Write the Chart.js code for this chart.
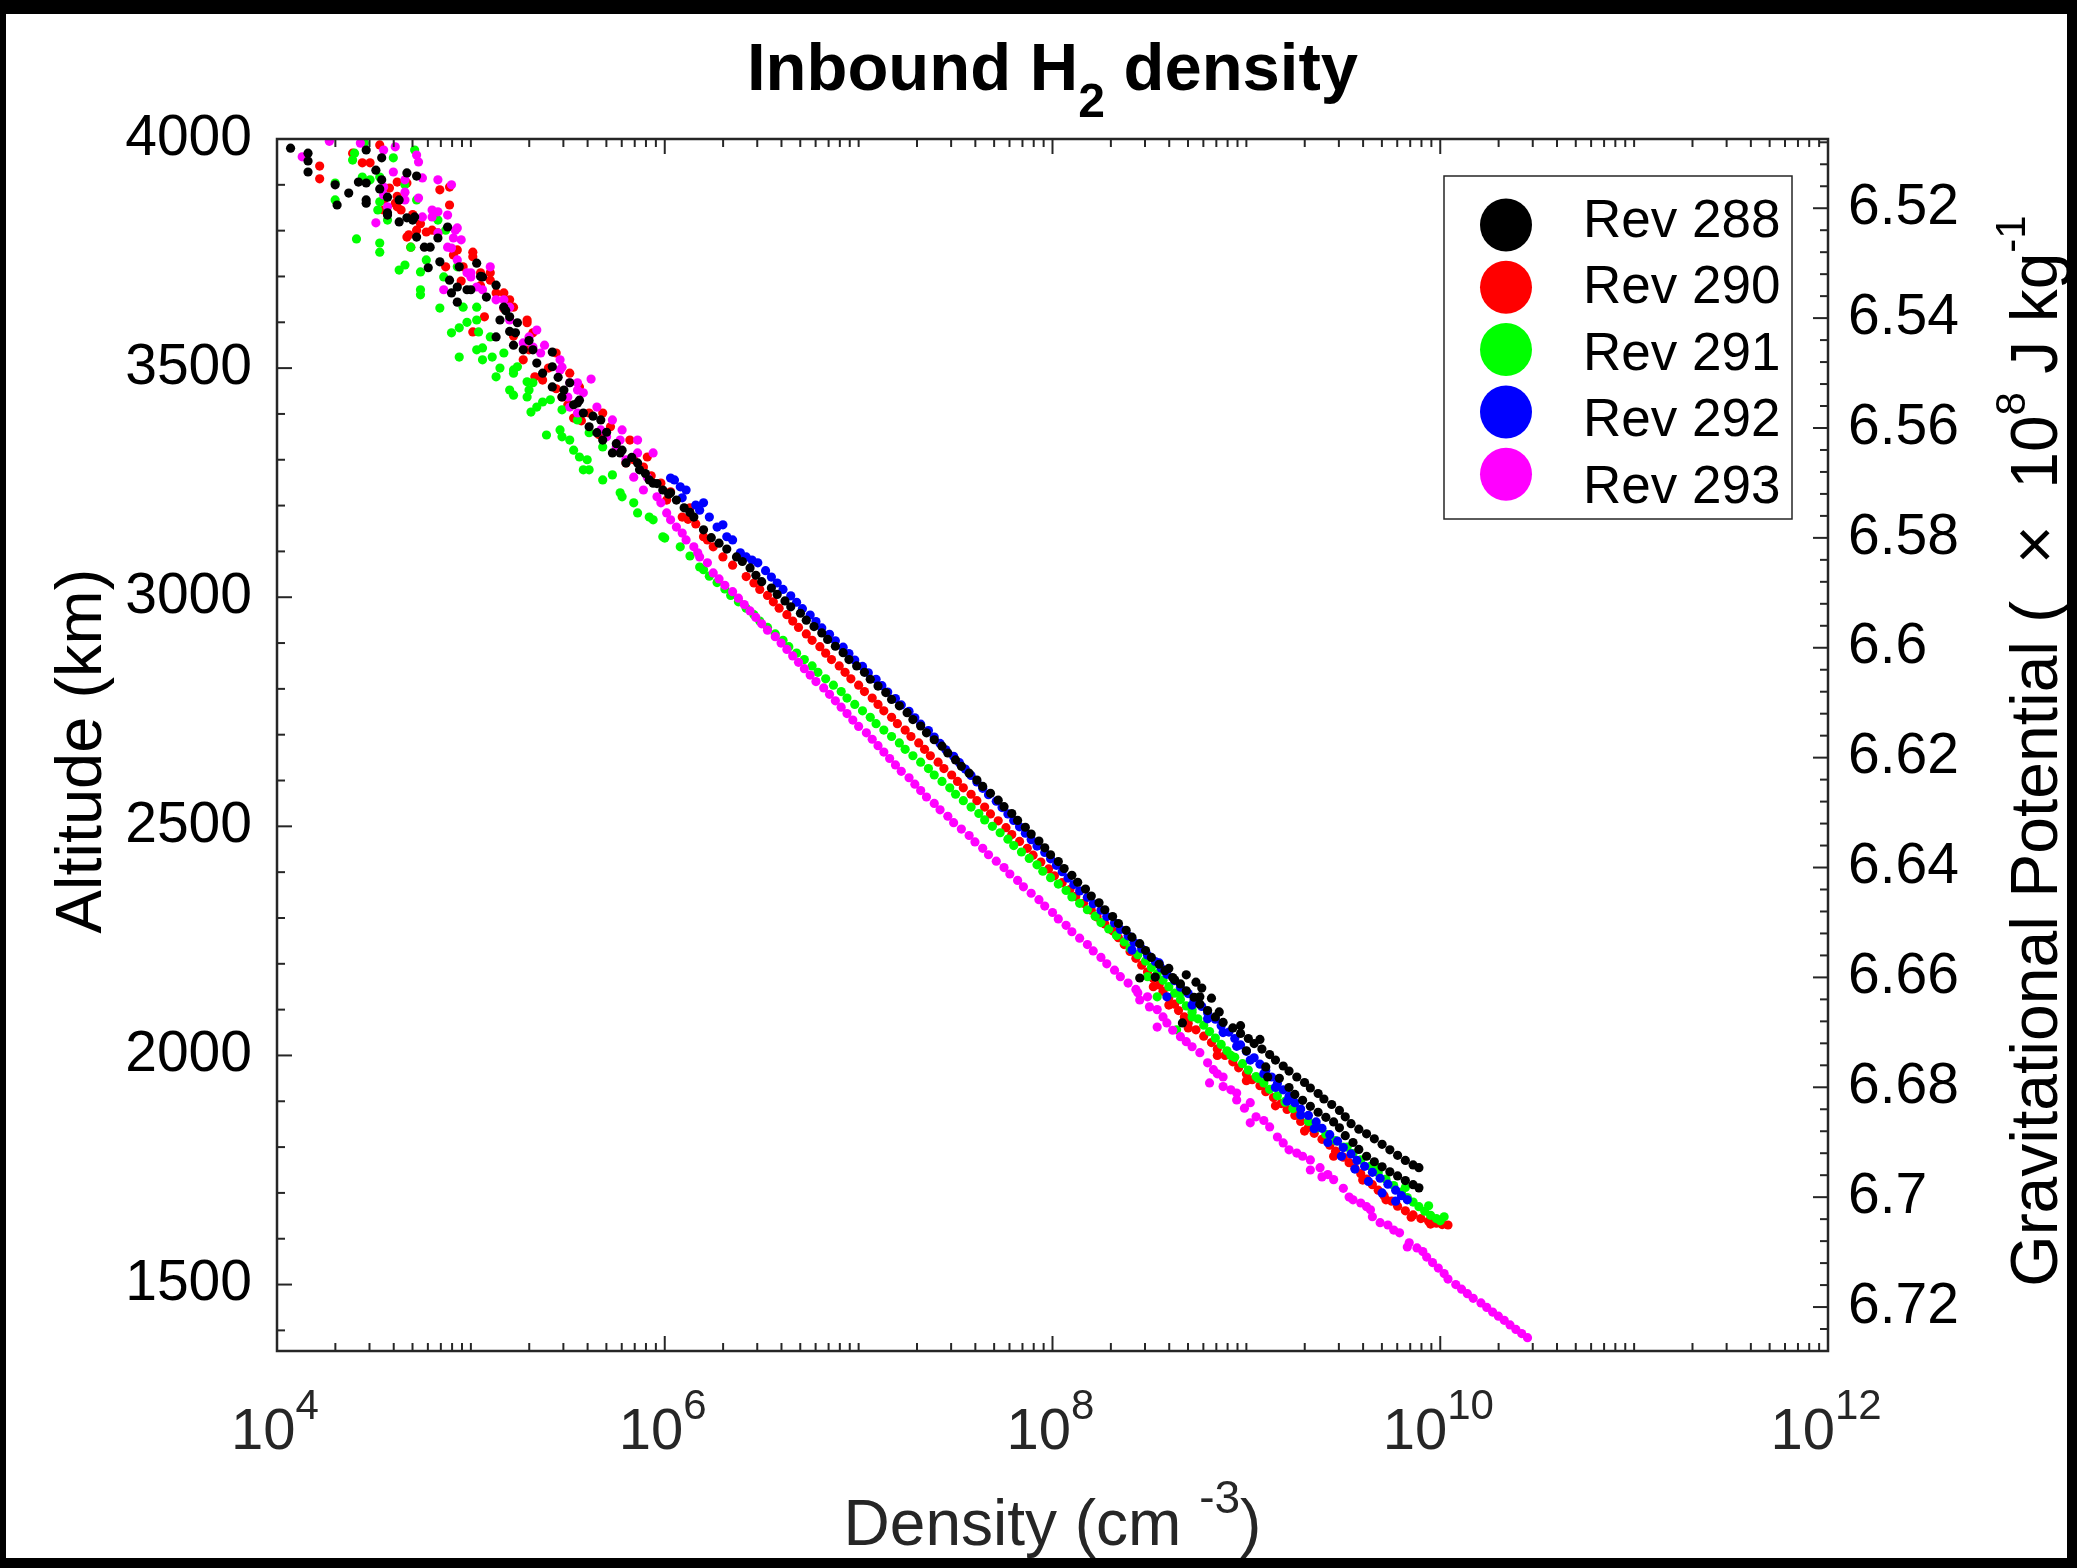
<!DOCTYPE html>
<html>
<head>
<meta charset="utf-8">
<title>Inbound H2 density</title>
<script src="https://cdn.jsdelivr.net/npm/chart.js@4/dist/chart.umd.min.js"></script>
<style>
  html, body { margin: 0; padding: 0; background: #000; overflow: hidden; }
  canvas { display: block; }
</style>
</head>
<body>
<canvas id="chart" width="2077" height="1568"></canvas>
<script>
// each point: [log10 density (cm^-3), altitude (km)]
const rev288 = [
  [4.07,3980],[4.16,3969],[4.16,3952],[4.16,3928],[4.30,3900],[4.31,3856],[4.37,3882],[4.42,3906],[4.46,3976],[4.46,3904],
  [4.46,3867],[4.51,3932],[4.53,3891],[4.54,3959],[4.54,3911],[4.57,3873],[4.57,3834],[4.63,3867],[4.63,3819],[4.67,3926],
  [4.72,3919],[4.67,3828],[4.72,3786],[4.76,3764],[4.83,3784],[4.84,3732],[4.78,3719],[4.88,3808],[4.90,3664],[4.93,3644],
  [4.94,3721],[4.98,3671],[5.03,3729],[5.05,3700],[5.08,3655],[5.13,3681],[5.15,3605],[5.13,3568],[5.18,3625],[5.20,3580],
  [5.22,3550],[5.24,3599],[5.27,3540],[5.30,3560],[5.34,3511],[5.42,3535],[5.37,3489],[5.45,3480],[5.42,3459],[5.48,3452],
  [5.51,3468],[5.53,3420],[5.56,3430],[5.58,3402],[5.61,3372],[5.63,3395],[5.67,3387],[5.68,3343],[5.70,3360],[5.73,3315],
  [5.75,3335],[5.78,3321],[5.80,3293],[5.83,3305],[5.87,3278],[5.90,3270],[5.92,3256],[5.96,3248],[5.99,3234],[6.02,3225],
  [6.06,3212],[6.10,3195],[6.13,3185],[6.15,3175],[6.20,3147],[6.24,3130],[6.28,3118],[6.32,3105],[6.37,3088],[6.40,3078],
  [4.46,3860],[4.57,3839],[4.70,3823],[4.71,3830],[4.79,3764],[4.89,3692],[4.93,3677],[5.00,3671],[5.06,3699],[5.17,3633],
  [5.20,3612],[5.23,3577],[5.32,3540],[5.42,3503],[5.47,3437],[5.55,3424],[5.65,3359],[5.77,3315],[5.86,3293],[5.94,3249],
  [6.03,3228],
  [6.44,3064],[6.47,3048],[6.50,3034],[6.55,3020],[6.58,3006],[6.62,2992],[6.65,2979],[6.70,2965],[6.73,2950],[6.77,2936],
  [6.81,2922],[6.84,2908],[6.88,2893],[6.92,2879],[6.95,2864],[6.99,2850],[7.03,2836],[7.06,2821],[7.10,2806],[7.14,2792],
  [7.17,2777],[7.21,2763],[7.25,2748],[7.28,2733],[7.32,2719],[7.35,2704],[7.39,2689],[7.43,2675],[7.46,2660],[7.50,2645],
  [7.53,2631],[7.57,2616],[7.61,2601],[7.64,2587],[7.68,2572],[7.72,2557],[7.75,2543],[7.79,2528],[7.82,2513],[7.86,2498],
  [7.89,2483],[7.93,2468],[7.96,2453],[7.99,2438],[8.03,2423],[8.06,2408],[8.10,2393],[8.13,2378],[8.17,2363],[8.20,2348],
  [8.24,2333],[8.27,2318],[8.31,2303],[8.34,2288],[8.38,2273],[8.41,2258],[8.45,2244],[8.48,2229],[8.51,2214],[8.55,2199],
  [8.58,2185],[8.62,2170],[8.66,2156],[8.69,2141],[8.73,2127],[8.76,2112],[8.80,2098],[8.84,2084],[8.88,2072],[8.93,2060],
  [8.97,2048],[9.01,2037],[9.04,2026],[9.08,2014],[9.12,2002],[9.15,1990],[9.19,1977],[9.22,1966],[9.26,1953],[9.30,1941],
  [9.33,1929],[9.37,1917],[9.40,1905],[9.44,1893],[9.48,1880],[9.51,1866],[9.54,1851],[9.58,1839],[9.62,1829],[9.66,1818],
  [9.70,1806],[9.74,1794],[9.78,1782],[9.82,1771],[9.86,1761],[9.89,1755],[9.25,1915],[9.29,1902],[9.33,1889],[9.37,1876],
  [9.41,1865],[9.45,1855],[9.48,1842],[9.51,1825],[9.55,1810],[9.58,1795],[9.62,1780],[9.66,1768],[9.70,1757],[9.74,1746],
  [9.78,1737],[9.82,1727],[9.86,1718],[9.89,1711],[8.45,2169],[8.69,2176],[8.77,2147],[8.67,2071],[9.11,1953],[8.53,2171],
  [8.60,2190],[8.74,2160],[8.82,2125],[8.63,2165],[8.76,2128],[8.86,2095],[8.97,2065],[9.07,2035],[9.00,2010],[9.10,1975],
  [9.17,1950],[9.22,1930]
];
const rev290 = [
  [4.22,3941],[4.22,3913],[4.39,3969],[4.44,3948],[4.48,3948],[4.53,3987],[4.58,3893],[4.61,3860],[4.62,3906],[4.67,3904],
  [4.55,3845],[4.62,3875],[4.68,3791],[4.69,3764],[4.67,3786],[4.70,3835],[4.74,3815],[4.77,3797],[4.80,3801],[4.84,3889],
  [4.89,3856],[4.89,3895],[4.91,3747],[4.96,3721],[4.87,3721],[4.95,3690],[5.01,3753],[5.01,3579],[5.05,3680],[5.07,3612],
  [5.10,3708],[5.13,3664],[5.17,3630],[5.20,3649],[5.22,3570],[5.29,3605],[5.27,3518],[5.30,3540],[5.33,3481],[5.37,3474],
  [5.40,3500],[5.44,3455],[5.47,3437],[5.50,3420],[5.53,3391],[5.57,3385],[5.61,3402],[5.66,3355],[5.72,3372],[5.76,3320],
  [5.80,3293],[5.84,3300],[5.89,3284],[5.93,3265],[5.98,3249],[6.01,3212],[6.03,3230],[6.09,3175],[6.12,3170],[6.13,3195],
  [6.16,3160],[6.20,3132],[6.22,3125],[6.25,3110],[6.30,3088],[6.35,3070],
  [4.55,3867],[4.62,3852],[4.64,3845],[4.72,3801],[4.83,3795],[4.93,3758],[5.01,3743],[5.05,3708],[5.10,3692],[5.17,3664],
  [5.22,3633],[5.29,3599],[5.32,3577],[5.44,3533],[5.51,3489],[5.56,3459],[5.68,3402],[5.82,3343],[5.91,3306],
  [6.42,3045],[6.46,3031],[6.49,3017],[6.53,3004],
  [6.56,2990],[6.59,2976],[6.63,2962],[6.66,2948],[6.69,2934],[6.73,2920],[6.76,2906],[6.80,2892],[6.83,2878],[6.86,2864],
  [6.90,2850],[6.93,2836],[6.96,2822],[7.00,2808],[7.03,2794],[7.07,2780],[7.10,2766],[7.13,2752],[7.17,2738],[7.20,2724],
  [7.24,2710],[7.27,2696],[7.31,2682],[7.34,2668],[7.37,2654],[7.41,2640],[7.44,2626],[7.48,2612],[7.51,2598],[7.54,2584],
  [7.58,2570],[7.61,2556],[7.65,2542],[7.68,2527],[7.72,2512],[7.76,2497],[7.79,2482],[7.83,2467],[7.87,2452],[7.90,2437],
  [7.94,2422],[7.98,2407],[8.01,2392],[8.05,2377],[8.09,2362],[8.12,2347],[8.16,2332],[8.20,2317],[8.23,2302],[8.27,2287],
  [8.31,2272],[8.34,2257],[8.37,2242],[8.40,2227],[8.43,2212],[8.46,2197],[8.49,2182],[8.52,2168],[8.55,2154],[8.57,2140],
  [8.60,2126],[8.63,2112],[8.65,2098],[8.68,2084],[8.70,2070],[8.74,2056],[8.78,2042],[8.82,2028],[8.85,2014],[8.89,2000],
  [8.93,1986],[8.96,1973],[9.00,1960],[9.03,1947],[9.07,1934],[9.10,1921],[9.14,1908],[9.18,1895],[9.21,1882],[9.25,1869],
  [9.28,1856],[9.32,1843],[9.35,1830],[9.39,1817],[9.43,1804],[9.46,1791],[9.50,1778],[9.53,1766],[9.56,1754],[9.59,1742],
  [9.62,1730],[9.65,1718],[9.68,1706],[9.71,1694],[9.75,1682],[9.78,1671],[9.82,1661],[9.86,1652],[9.90,1644],[9.94,1638],
  [9.98,1634],[10.01,1631],[10.04,1630],[8.52,2150],[8.60,2110],[8.70,2060],[8.85,2000],[9.00,1945],[9.15,1890],[9.30,1835],
  [9.45,1780],[9.60,1728],[9.72,1685],[9.85,1647],[9.95,1632]
];
const rev291 = [
  [4.30,3904],[4.30,3867],[4.41,3782],[4.53,3863],[4.53,3753],[4.53,3773],[4.63,3714],[4.66,3725],[4.74,3710],[4.74,3671],
  [4.74,3660],[4.84,3631],[4.90,3577],[4.94,3524],[4.94,3588],[4.98,3600],[5.03,3540],[5.06,3518],[5.06,3544],[5.11,3524],
  [5.15,3500],[5.13,3481],[5.20,3452],[5.22,3496],[5.29,3437],[5.31,3404],[5.34,3415],[5.39,3354],[5.46,3365],[5.51,3343],
  [5.56,3306],[5.61,3278],[5.68,3256],[5.77,3228],[5.84,3206],[5.92,3175],[5.99,3132],[6.08,3110],[6.18,3066],[4.40,3969],
  [4.45,3991],[4.48,3911],[4.53,3917],[4.60,3959],[4.71,3976],[4.66,3900],[4.72,3867],[4.83,3823],[4.87,3801],[4.93,3721],
  [5.03,3633],[5.04,3579],[5.22,3489],[5.29,3470],[5.22,3441],[5.30,3452],[5.37,3426],[5.47,3350],[5.53,3321],[5.60,3300],
  [5.58,3278],[5.73,3267],[5.78,3219],[5.86,3184],[5.94,3169],[6.00,3129],[6.13,3090],
  [4.39,3954],[4.44,3917],[4.52,3845],[4.57,3823],[4.69,3764],[4.77,3736],[4.86,3699],[4.96,3633],[5.03,3605],[5.10,3568],
  [5.17,3533],[5.24,3503],[5.32,3468],[5.41,3431],[5.47,3409],[5.55,3387],[5.61,3359],[5.68,3328],
  [6.20,3060],[6.23,3046],[6.27,3032],
  [6.31,3018],[6.34,3004],[6.38,2990],[6.42,2976],[6.46,2962],[6.49,2948],[6.53,2934],[6.57,2920],[6.61,2906],[6.64,2892],
  [6.68,2878],[6.72,2864],[6.76,2850],[6.79,2836],[6.83,2822],[6.87,2808],[6.91,2794],[6.94,2780],[6.98,2766],[7.02,2752],
  [7.06,2738],[7.09,2724],[7.13,2710],[7.17,2696],[7.21,2682],[7.24,2668],[7.28,2654],[7.32,2640],[7.36,2626],[7.39,2612],
  [7.43,2598],[7.47,2584],[7.50,2570],[7.54,2556],[7.58,2542],[7.62,2528],[7.65,2514],[7.69,2500],[7.73,2486],[7.77,2472],
  [7.80,2458],[7.84,2444],[7.88,2430],[7.92,2416],[7.95,2402],[7.99,2388],[8.03,2374],[8.07,2360],[8.10,2346],[8.14,2332],
  [8.18,2318],[8.22,2304],[8.25,2290],[8.29,2276],[8.33,2262],[8.37,2248],[8.40,2234],[8.44,2220],[8.48,2206],[8.51,2192],
  [8.54,2178],[8.57,2164],[8.60,2150],[8.63,2136],[8.66,2122],[8.69,2108],[8.72,2094],[8.75,2080],[8.78,2066],[8.81,2052],
  [8.84,2038],[8.87,2024],[8.90,2010],[8.94,1996],[8.98,1982],[9.01,1968],[9.05,1954],[9.09,1940],[9.12,1926],[9.16,1912],
  [9.20,1898],[9.24,1884],[9.28,1870],[9.32,1856],[9.37,1842],[9.41,1828],[9.46,1814],[9.50,1800],[9.55,1786],[9.59,1772],
  [9.64,1758],[9.68,1744],[9.72,1730],[9.76,1716],[9.80,1702],[9.83,1690],[9.86,1680],[9.89,1670],[9.92,1660],[9.95,1651],
  [9.98,1644],[10.00,1639],[8.49,2172],[8.54,2128],[8.66,2137],[8.72,2100],[8.64,2056],[8.72,2084],[8.92,2000],[9.06,1950],
  [9.20,1900],[9.35,1850],[9.52,1800],[9.68,1755],[9.82,1712],[9.94,1672],[10.02,1648]
];
const rev292 = [
  [6.03,3260],[6.05,3256],[6.08,3241],[6.11,3234],[6.09,3217],[6.16,3201],[6.20,3206],[6.18,3190],[6.23,3175],[6.27,3153],
  [6.30,3158],[6.32,3132],[6.35,3125],[6.39,3097],[6.42,3088],[6.48,3075],[6.45,3081],[6.52,3058],[6.55,3044],[6.58,3031],
  [6.61,3017],[6.65,3003],[6.68,2989],[6.71,2975],[6.75,2961],[6.78,2947],[6.81,2933],[6.85,2919],[6.88,2905],[6.92,2891],
  [6.95,2877],[6.98,2863],[7.02,2849],[7.05,2835],[7.09,2821],[7.12,2807],[7.15,2793],[7.19,2779],[7.22,2765],[7.26,2751],
  [7.29,2737],[7.32,2723],[7.36,2709],[7.39,2695],[7.42,2681],[7.45,2667],[7.49,2653],[7.52,2639],[7.55,2625],[7.58,2611],
  [7.61,2597],[7.64,2583],[7.67,2569],[7.71,2555],[7.74,2541],[7.77,2527],[7.80,2513],[7.83,2499],[7.86,2485],[7.89,2471],
  [7.92,2457],[7.96,2443],[7.99,2429],[8.02,2415],[8.05,2401],[8.08,2387],[8.11,2373],[8.14,2359],[8.18,2345],[8.21,2331],
  [8.25,2317],[8.28,2303],[8.32,2289],[8.35,2275],[8.39,2261],[8.42,2247],[8.46,2233],[8.49,2219],[8.53,2205],[8.56,2191],
  [8.59,2177],[8.63,2163],[8.66,2149],[8.70,2135],[8.73,2121],[8.77,2107],[8.80,2093],[8.84,2079],[8.87,2065],[8.91,2051],
  [8.94,2037],[8.97,2023],[9.00,2009],[9.04,1995],[9.07,1981],[9.10,1967],[9.13,1953],[9.16,1939],[9.19,1925],[9.22,1911],
  [9.25,1897],[9.28,1883],[9.32,1869],[9.36,1855],[9.39,1841],[9.43,1827],[9.47,1813],[9.50,1799],[9.54,1785],[9.57,1771],
  [9.61,1758],[9.65,1745],[9.69,1732],[9.73,1719],[9.77,1706],[9.80,1694],[9.83,1685],[8.72,2110],[8.80,2080],[8.88,2050],
  [8.95,2020],[9.02,1990],[9.09,1960],[9.15,1930],[9.21,1900],[9.28,1870],[9.35,1840],[9.42,1810],[9.49,1780],[9.56,1752],
  [9.63,1725],[9.70,1700],[9.77,1682],[8.41,2230],[8.55,2202],[8.59,2128]
];
const rev293 = [
  [4.13,3961],[4.27,3995],[4.43,3991],[4.55,3976],[4.61,3983],[4.55,3895],[4.55,3878],[4.60,3928],[4.66,3884],[4.66,3911],
  [4.72,3965],[4.73,3950],[4.73,3871],[4.75,3915],[4.80,3845],[4.83,3911],[4.83,3841],[4.51,3817],[4.88,3834],[4.90,3900],
  [4.92,3801],[4.93,3806],[4.95,3780],[4.91,3784],[4.86,3671],[4.90,3762],[4.98,3708],[5.00,3699],[5.03,3677],[5.10,3721],
  [5.17,3649],[5.17,3633],[5.20,3605],[5.27,3555],[5.32,3546],[5.34,3583],[5.38,3550],[5.46,3518],[5.47,3502],[5.55,3452],
  [5.55,3468],[5.62,3476],[5.50,3437],[5.51,3415],[5.55,3402],[5.67,3365],[5.70,3350],[5.75,3328],[5.77,3343],[5.80,3300],
  [4.57,3852],[4.66,3867],[4.75,3830],[4.80,3830],[4.83,3795],[4.88,3764],[4.93,3736],[5.00,3708],[5.06,3671],[5.13,3649],
  [5.20,3633],[5.30,3568],[5.36,3533],[5.46,3496],[5.51,3468],[5.58,3446],[5.65,3415],[5.73,3387],[5.78,3365],[5.86,3343],
  [5.94,3315],
  [5.86,3315],[5.84,3262],[5.91,3262],[5.89,3234],[5.96,3219],[5.98,3206],[6.01,3184],[6.03,3169],[6.06,3153],[6.09,3140],
  [6.11,3125],[6.15,3110],[6.17,3097],[6.18,3088],[6.22,3075],[6.25,3053],[6.28,3040],[6.31,3026],[6.35,3012],[6.38,2998],
  [6.41,2984],[6.44,2970],[6.47,2956],[6.50,2942],[6.53,2928],[6.57,2914],[6.60,2900],[6.63,2886],[6.66,2872],[6.69,2858],
  [6.72,2844],[6.75,2830],[6.78,2816],[6.82,2802],[6.85,2788],[6.88,2774],[6.91,2760],[6.94,2746],[6.97,2732],[7.00,2718],
  [7.04,2704],[7.07,2690],[7.10,2676],[7.13,2662],[7.16,2648],[7.19,2634],[7.22,2620],[7.26,2606],[7.29,2592],[7.32,2578],
  [7.35,2564],[7.39,2550],[7.42,2536],[7.46,2522],[7.49,2508],[7.53,2494],[7.57,2480],[7.60,2466],[7.64,2452],[7.67,2438],
  [7.71,2424],[7.75,2410],[7.78,2396],[7.82,2382],[7.85,2368],[7.89,2354],[7.93,2340],[7.96,2326],[8.00,2312],[8.03,2298],
  [8.07,2284],[8.10,2270],[8.14,2256],[8.18,2242],[8.21,2228],[8.25,2214],[8.28,2200],[8.32,2186],[8.35,2172],[8.39,2158],
  [8.43,2144],[8.45,2121],[8.44,2137],[8.49,2128],[8.50,2106],[8.54,2100],[8.57,2084],[8.54,2062],[8.59,2071],[8.62,2055],
  [8.66,2041],[8.69,2030],[8.72,2019],[8.76,2006],[8.80,1984],[8.83,1969],[8.85,1960],[8.81,1940],[8.88,1953],[8.88,1932],
  [8.92,1925],[8.95,1918],[8.95,1903],[8.99,1885],[9.02,1897],[9.02,1853],[9.05,1866],[9.09,1858],[9.12,1844],[9.16,1822],
  [9.19,1809],[9.22,1794],[9.26,1787],[9.29,1780],[9.33,1772],[9.33,1750],[9.38,1755],[9.39,1735],[9.42,1740],[9.45,1729],
  [9.50,1710],[9.53,1691],[9.55,1685],[9.59,1678],[9.62,1670],[9.64,1663],[9.65,1648],[9.69,1635],[9.73,1630],[9.76,1619],
  [9.79,1613],[9.83,1582],[9.84,1591],[9.88,1580],[9.91,1572],[9.93,1560],[9.96,1548],[9.99,1536],[10.02,1524],[10.04,1512],
  [10.08,1500],[10.11,1490],[10.14,1480],[10.17,1470],[10.21,1460],[10.24,1450],[10.27,1440],[10.30,1431],[10.33,1422],[10.36,1412],
  [10.39,1402],[10.42,1393],[10.45,1384]
];

const seriesNames = ["Rev 288", "Rev 290", "Rev 291", "Rev 292", "Rev 293"];
const seriesColors = ["#000000", "#ff0000", "#00ff00", "#0000ff", "#ff00ff"];
const seriesRows = [rev288, rev290, rev291, rev292, rev293];
const drawOrder = [0, 4, 3, 2, 1]; // lower = drawn on top

const altitudeTicks = [1500, 2000, 2500, 3000, 3500, 4000];
const potentialTicks = [6.52, 6.54, 6.56, 6.58, 6.6, 6.62, 6.64, 6.66, 6.68, 6.7, 6.72];
const densityExponents = [4, 6, 8, 10, 12];

const FONT = '"Liberation Sans", Arial, Helvetica, sans-serif';
const INK = "#262626";

function toPoints(rows) {
  return rows.map(r => ({ x: Math.pow(10, r[0]), y: r[1] }));
}

// parts: [text, size, rise, bold]; drawn centred on x
function drawRich(ctx, parts, x, y) {
  const fontOf = p => (p[3] ? "bold " : "") + p[1] + "px " + FONT;
  let total = 0;
  parts.forEach(p => { ctx.font = fontOf(p); total += ctx.measureText(p[0]).width; });
  let cx = x - total / 2;
  ctx.textAlign = "left";
  ctx.textBaseline = "alphabetic";
  parts.forEach(p => {
    ctx.font = fontOf(p);
    ctx.fillText(p[0], cx, y - p[2]);
    cx += ctx.measureText(p[0]).width;
  });
}

function tick(ctx, x1, y1, x2, y2) {
  ctx.beginPath();
  ctx.moveTo(x1, y1);
  ctx.lineTo(x2, y2);
  ctx.stroke();
}

const decorations = {
  id: "decorations",
  beforeDraw(chart) {
    const ctx = chart.ctx;
    ctx.save();
    ctx.fillStyle = "#000";
    ctx.fillRect(0, 0, chart.width, chart.height);
    ctx.fillStyle = "#fff";
    ctx.fillRect(6, 14, 2061, 1544);
    ctx.restore();
  },
  afterDraw(chart) {
    const ctx = chart.ctx;
    const a = chart.chartArea;
    const xs = chart.scales.x, ys = chart.scales.y, ps = chart.scales.y2;
    ctx.save();
    ctx.strokeStyle = INK;
    ctx.lineWidth = 2;

    // density ticks, bottom and top
    for (let e = 4; e <= 12; e++) {
      for (let k = 1; k < 10; k++) {
        if (e === 12 && k > 1) break;
        const px = xs.getPixelForValue(k * Math.pow(10, e));
        const len = (k === 1 && densityExponents.includes(e)) ? 15 : 8;
        tick(ctx, px, a.bottom, px, a.bottom - len);
        tick(ctx, px, a.top, px, a.top + len);
      }
    }
    // altitude ticks, left
    for (let alt = 1400; alt <= 4000; alt += 100) {
      const py = ys.getPixelForValue(alt);
      tick(ctx, a.left, py, a.left + (alt % 500 === 0 ? 15 : 8), py);
    }
    // potential ticks, right
    for (let m = 1627; m <= 1682; m++) {
      const py = ps.getPixelForValue(m * 0.004);
      if (py < a.top || py > a.bottom) continue;
      tick(ctx, a.right, py, a.right - (m % 5 === 0 ? 15 : 8), py);
    }

    ctx.lineWidth = 2.5;
    ctx.strokeRect(a.left, a.top, a.right - a.left, a.bottom - a.top);

    // density tick labels
    ctx.fillStyle = INK;
    densityExponents.forEach(e => {
      const px = xs.getPixelForValue(Math.pow(10, e));
      drawRich(ctx, [["10", 58, 0], [String(e), 42, 30]], px - 2, 1449);
    });

    ctx.fillStyle = "#000";
    drawRich(ctx, [["Inbound H", 67, 0, true], ["2", 48, -27, true], [" density", 67, 0, true]], (a.left + a.right) / 2, 90);

    ctx.fillStyle = INK;
    drawRich(ctx, [["Density (cm ", 64, 0], ["-3", 46, 32], [")", 64, 0]], (a.left + a.right) / 2, 1545);

    ctx.fillStyle = "#000";
    ctx.save();
    ctx.translate(101, (a.top + a.bottom) / 2 + 6);
    ctx.rotate(-Math.PI / 2);
    drawRich(ctx, [["Altitude (km)", 65, 0]], 0, 0);
    ctx.restore();

    ctx.save();
    ctx.translate(2057, (a.top + a.bottom) / 2 + 6);
    ctx.rotate(-Math.PI / 2);
    drawRich(ctx, [["Gravitational Potential (  \u00d7  10", 66, 0], ["8", 42, 32], [" J kg", 66, 0], ["-1", 42, 32]], 0, 0);
    ctx.restore();

    // legend
    ctx.fillStyle = "#fff";
    ctx.fillRect(1444, 176, 348, 343);
    ctx.strokeStyle = INK;
    ctx.lineWidth = 1.5;
    ctx.strokeRect(1444, 176, 348, 343);
    chart.data.datasets.forEach((ds, i) => {
      ctx.fillStyle = ds.backgroundColor;
      ctx.beginPath();
      ctx.ellipse(1506, 225 + 62.3 * i, 26, 26.5, 0, 0, Math.PI * 2);
      ctx.fill();
      ctx.fillStyle = "#000";
      ctx.font = "53px " + FONT;
      ctx.textAlign = "left";
      ctx.textBaseline = "alphabetic";
      ctx.fillText(ds.label, 1583, 237 + 66.4 * i);
    });
    ctx.restore();
  }
};

new Chart(document.getElementById("chart").getContext("2d"), {
  type: "scatter",
  data: {
    datasets: seriesRows.map((rows, i) => ({
      label: seriesNames[i],
      data: toPoints(rows),
      backgroundColor: seriesColors[i],
      borderWidth: 0,
      pointRadius: 4.6,
      pointHoverRadius: 4.6,
      order: drawOrder[i],
      clip: 0
    }))
  },
  options: {
    responsive: false,
    animation: false,
    devicePixelRatio: 1,
    events: [],
    layout: { padding: { top: 139, left: 0, right: 0, bottom: 0 } },
    plugins: {
      legend: { display: false },
      tooltip: { enabled: false }
    },
    scales: {
      x: {
        type: "logarithmic",
        position: "bottom",
        min: 1e4,
        max: 1e12,
        grid: { display: false, drawTicks: false },
        border: { display: false },
        ticks: { display: false },
        afterFit: s => { s.height = 217; }
      },
      y: {
        type: "linear",
        position: "left",
        min: 1355,
        max: 4000,
        grid: { display: false, drawTicks: false },
        border: { display: false },
        ticks: { color: "#000", padding: 25, autoSkip: false, font: { family: FONT, size: 57 }, callback: v => String(v) },
        afterBuildTicks: s => { s.ticks = altitudeTicks.map(v => ({ value: v })); },
        afterFit: s => { s.width = 277; }
      },
      y2: {
        type: "linear",
        position: "right",
        reverse: true,
        min: 6.5074,
        max: 6.728,
        grid: { display: false, drawTicks: false },
        border: { display: false },
        ticks: { color: "#000", padding: 20, autoSkip: false, font: { family: FONT, size: 57 }, callback: v => String(v) },
        afterBuildTicks: s => { s.ticks = potentialTicks.map(v => ({ value: v })); },
        afterFit: s => { s.width = 249; }
      }
    }
  },
  plugins: [decorations]
});
</script>
</body>
</html>
